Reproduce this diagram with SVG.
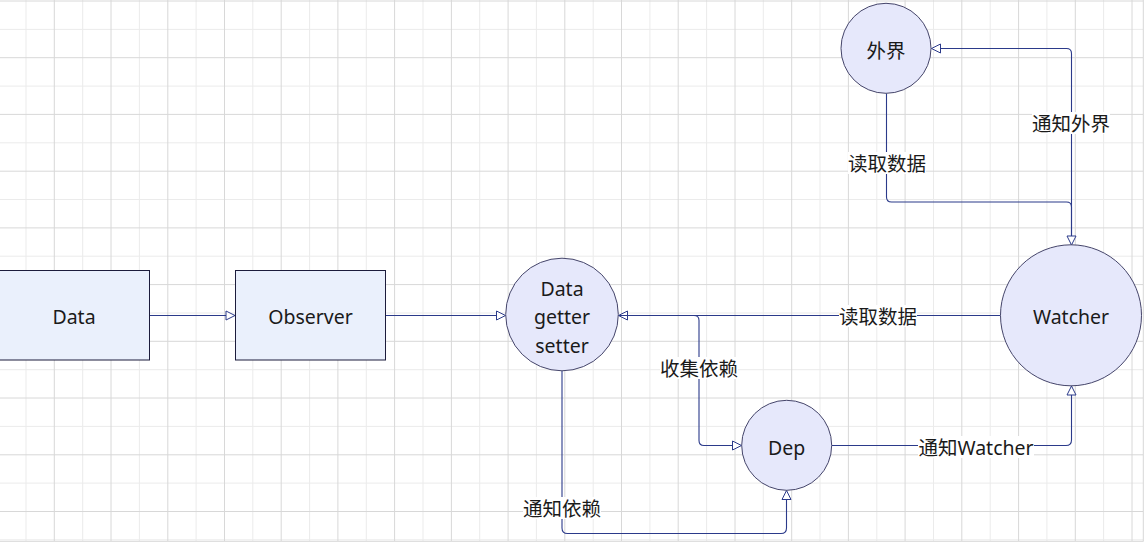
<svg xmlns="http://www.w3.org/2000/svg" width="1145" height="548" viewBox="0 0 1145 548">
<defs>
<style>
.gmin{stroke:#EBEBEB;stroke-width:1;fill:none}
.gmaj{stroke:#D8D8D8;stroke-width:1;fill:none}
.rect{fill:#EAF0FC;stroke:#1C1C3C;stroke-width:1}
.circ{fill:#E6E8FB;stroke:#45456A;stroke-width:1}
.txt{font-family:"Noto Sans","Noto Sans CJK SC",sans-serif;font-size:19.5px;fill:#1A1A1A;text-anchor:middle;dominant-baseline:central}
.edge{fill:none;stroke:#2B3A8A;stroke-width:1.1;marker-end:url(#arr)}
.lbg{fill:#FFFFFF}
</style>
<marker id="arr" markerUnits="userSpaceOnUse" markerWidth="12" markerHeight="12" refX="9" refY="4.5" orient="auto" overflow="visible">
<path d="M0,0 L9,4.5 L0,9 Z" fill="#FFFFFF" stroke="#2B3A8A" stroke-width="1"/>
</marker>
</defs>
<rect x="0" y="0" width="1145" height="548" fill="#FFFFFF"/>
<g id="grid">
<path class="gmin" d="M26,0V541M82.7,0V541M139.4,0V541M196.1,0V541M252.8,0V541M309.6,0V541M366.3,0V541M423,0V541M479.7,0V541M536.4,0V541M593.2,0V541M649.9,0V541M706.6,0V541M763.3,0V541M820,0V541M876.8,0V541M933.5,0V541M990.2,0V541M1046.9,0V541M1103.6,0V541
M0,29.4H1143M0,86.1H1143M0,142.8H1143M0,199.5H1143M0,256.2H1143M0,313H1143M0,369.7H1143M0,426.4H1143M0,483.1H1143M0,539.8H1143"/>
<path class="gmaj" d="M54.3,0V541M111,0V541M167.8,0V541M224.5,0V541M281.2,0V541M337.9,0V541M394.6,0V541M451.4,0V541M508.1,0V541M564.8,0V541M621.5,0V541M678.2,0V541M735,0V541M791.7,0V541M848.4,0V541M905.1,0V541M961.8,0V541M1018.6,0V541M1075.3,0V541M1132,0V541
M0,1H1143M0,57.7H1143M0,114.4H1143M0,171.2H1143M0,227.9H1143M0,284.6H1143M0,341.3H1143M0,398H1143M0,454.8H1143M0,511.5H1143"/>
<path class="gmaj" d="M1143.3,0V541.5M0,541.3H1143.3"/>
</g>
<g id="connectors">
<path id="e1" class="edge" d="M149.5,315.5H235"/>
<path id="e2" class="edge" d="M385.5,315.5H505.5"/>
<path id="e3" class="edge" d="M1000,315.5H618.5"/>
<path id="e4" class="edge" d="M618.5,315.5H694Q699,315.5 699,320.5V440.5Q699,445.5 704,445.5H741.5"/>
<path id="e5" class="edge" d="M562,371V528Q562,533.5 567.5,533.5H781Q786.5,533.5 786.5,528V490.5"/>
<path id="e6" class="edge" d="M832,445.5H1066Q1071.5,445.5 1071.5,440V386"/>
<path id="e7" class="edge" d="M1071.5,245V53.5Q1071.5,48.5 1066.5,48.5H931.5"/>
<path id="e8" class="edge" d="M886.5,93.5V197Q886.5,202 891.5,202H1066.5Q1071.5,202 1071.5,207V245"/>
<g id="labels">
<rect class="lbg" x="839" y="305" width="78" height="22"/>
<text class="txt" x="878" y="316">读取数据</text>
<rect class="lbg" x="660" y="357" width="78" height="22"/>
<text class="txt" x="699" y="368">收集依赖</text>
<rect class="lbg" x="523" y="497" width="78" height="22"/>
<text class="txt" x="562" y="508">通知依赖</text>
<rect class="lbg" x="918" y="436" width="116" height="22"/>
<text class="txt" x="976" y="447">通知Watcher</text>
<rect class="lbg" x="1032" y="112" width="78" height="22"/>
<text class="txt" x="1071" y="123">通知外界</text>
<rect class="lbg" x="848" y="152" width="78" height="22"/>
<text class="txt" x="887" y="163">读取数据</text>
</g>
</g>
<g id="node-data">
<rect class="rect" x="-0.5" y="270.5" width="150" height="89.5"/>
<text class="txt" x="74" y="316">Data</text>
</g>
<g id="node-observer">
<rect class="rect" x="235.5" y="270.5" width="150" height="89.5"/>
<text class="txt" x="310.5" y="316">Observer</text>
</g>
<g id="node-data-getter-setter">
<circle class="circ" cx="562" cy="314.5" r="56.3"/>
<text class="txt" x="562" y="288">Data</text>
<text class="txt" x="562" y="316.5">getter</text>
<text class="txt" x="562" y="345">setter</text>
</g>
<g id="node-dep">
<circle class="circ" cx="786.7" cy="445.3" r="45"/>
<text class="txt" x="786.7" y="447">Dep</text>
</g>
<g id="node-watcher">
<circle class="circ" cx="1071" cy="315.3" r="70.5"/>
<text class="txt" x="1071" y="316">Watcher</text>
</g>
<g id="node-outside">
<circle class="circ" cx="886" cy="48.3" r="45"/>
<text class="txt" x="886" y="50">外界</text>
</g>
</svg>
